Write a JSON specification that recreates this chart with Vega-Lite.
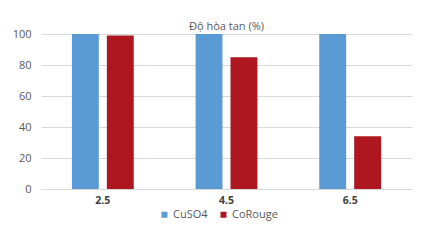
{
  "$schema": "https://vega.github.io/schema/vega-lite/v6.json",
  "autosize": "none",
  "width": 371,
  "height": 155,
  "padding": {"left": 41, "top": 34, "right": 12, "bottom": 59},
  "background": "white",
  "title": {"text": "Độ hòa tan (%)", "anchor": "middle", "frame": "group", "fontSize": 11, "fontWeight": "normal", "color": "#595959", "font": "Open Sans", "offset": -4},
  "data": {"values": [
    {"ph": "2.5", "series": "CuSO4", "value": 100},
    {"ph": "2.5", "series": "CoRouge", "value": 99},
    {"ph": "4.5", "series": "CuSO4", "value": 100},
    {"ph": "4.5", "series": "CoRouge", "value": 85},
    {"ph": "6.5", "series": "CuSO4", "value": 100},
    {"ph": "6.5", "series": "CoRouge", "value": 34}
  ]},
  "mark": {"type": "bar"},
  "encoding": {
    "x": {"field": "ph", "type": "nominal", "sort": null,
      "scale": {"paddingInner": 0.5, "paddingOuter": 0.25},
      "axis": {"title": null, "labelAngle": 0, "labelFontWeight": "bold", "labelColor": "#404040", "labelFont": "Open Sans", "labelFontSize": 10.5, "ticks": false, "domainColor": "#D9D9D9", "labelPadding": 6}},
    "xOffset": {"field": "series", "type": "nominal", "sort": ["CuSO4", "CoRouge"], "scale": {"paddingInner": 0.23, "paddingOuter": 0}},
    "y": {"field": "value", "type": "quantitative",
      "scale": {"domain": [0, 100]},
      "axis": {"title": null, "values": [0, 20, 40, 60, 80, 100], "domain": false, "ticks": false, "gridColor": "#D9D9D9", "labelColor": "#595959", "labelFont": "Open Sans", "labelFontSize": 11, "labelPadding": 10}},
    "color": {"field": "series", "type": "nominal", "sort": ["CuSO4", "CoRouge"],
      "scale": {"domain": ["CuSO4", "CoRouge"], "range": ["#5B9BD5", "#AE1620"]},
      "legend": {"title": null, "orient": "none", "legendX": 118, "legendY": 175, "direction": "horizontal", "symbolType": "square", "symbolSize": 36, "labelFont": "Open Sans", "labelFontSize": 11, "labelColor": "#595959", "labelOffset": 3, "columnPadding": 10, "symbolStrokeWidth": 0}}
  },
  "config": {"view": {"stroke": null}}
}
